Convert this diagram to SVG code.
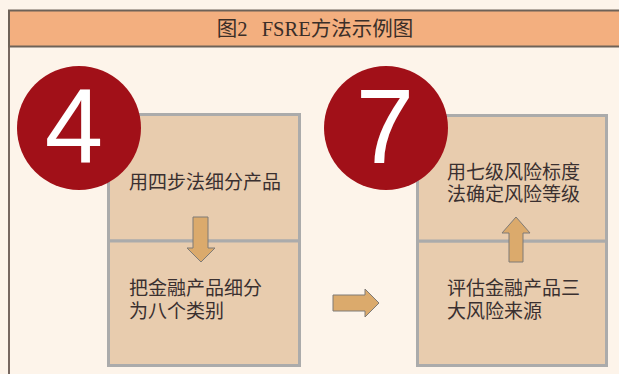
<svg xmlns="http://www.w3.org/2000/svg" width="619" height="374" viewBox="0 0 619 374">
  <style>
    .bg { fill: #FDF4EA; }
    .title-bar { fill: #F3AF7F; stroke: #6E6258; stroke-width: 2; }
    .title { font-family: "Liberation Serif", "Noto Sans CJK SC", serif; font-size: 20.5px; fill: #3A2E28; text-anchor: middle; word-spacing: 9px; }
    .box { fill: #E8CCAE; stroke: #ABABAB; stroke-width: 3; }
    .label { font-family: "Noto Sans CJK SC", "Noto Sans", sans-serif; font-size: 19px; fill: #3A3030; }
    .badge { fill: #A11018; }
    .digit { font-family: "Liberation Sans", Arial, sans-serif; font-size: 105px; fill: #FFFFFF; text-anchor: middle; }
    .arrow { fill: #DBAA6C; stroke: #7E7A76; stroke-width: 1; }
  </style>
  <rect class="bg" x="0" y="0" width="619" height="374"/>
  <line x1="9" y1="47" x2="9" y2="374" stroke="#4A3A32" stroke-width="1.5"/>
  <g id="title">
    <rect class="title-bar" x="9" y="10.5" width="614" height="36"/>
    <text class="title" x="315" y="36">图2 FSRE方法示例图</text>
  </g>
  <g id="step1">
    <rect class="box" x="108.5" y="114.5" width="191" height="126.5"/>
    <text class="label" x="129" y="189">用四步法细分产品</text>
  </g>
  <g id="step2">
    <rect class="box" x="108.5" y="241" width="191" height="124.5"/>
    <text class="label"><tspan x="129" y="295">把金融产品细分</tspan><tspan x="129" y="318">为八个类别</tspan></text>
  </g>
  <g id="step3">
    <rect class="box" x="417.5" y="241" width="189" height="124.5"/>
    <text class="label"><tspan x="447" y="295">评估金融产品三</tspan><tspan x="447" y="318">大风险来源</tspan></text>
  </g>
  <g id="step4">
    <rect class="box" x="417.5" y="115.5" width="189" height="125.5"/>
    <text class="label"><tspan x="447" y="179">用七级风险标度</tspan><tspan x="447" y="201">法确定风险等级</tspan></text>
  </g>
  <g id="badge4">
    <circle class="badge" cx="79" cy="128" r="62"/>
    <text class="digit" x="74" y="163">4</text>
  </g>
  <g id="badge7">
    <circle class="badge" cx="386" cy="128" r="62"/>
    <text class="digit" x="385" y="163">7</text>
  </g>
  <g id="connectors">
    <path class="arrow" d="M193,217 H208 V248 H215 L201,262 L187,248 H193 Z"/>
    <path class="arrow" d="M333,295 H365 V289 L379,303 L365,317 V311 H333 Z"/>
    <path class="arrow" d="M509,262 V233 H502 L516,217 L530,233 H523 V262 Z"/>
  </g>
</svg>
